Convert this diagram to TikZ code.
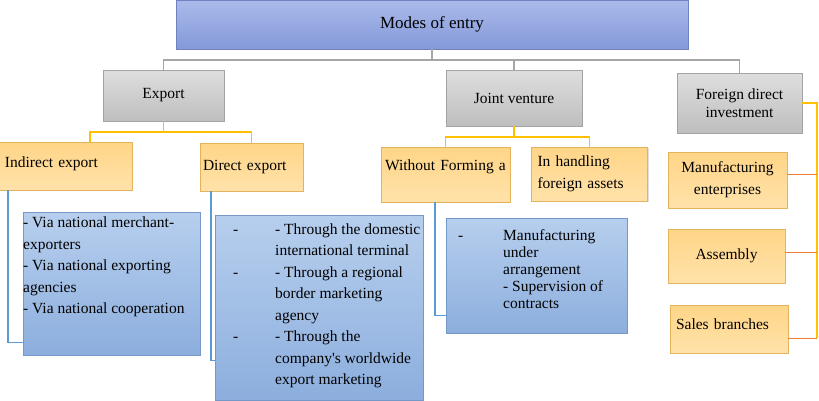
\documentclass[tikz,border=0pt]{standalone}
\usepackage{fontspec}
\setmainfont{Liberation Serif}
\usetikzlibrary{shadows}
\definecolor{titletop}{HTML}{AABAEA}
\definecolor{titlebot}{HTML}{8499D9}
\definecolor{titleedge}{HTML}{6E82BE}
\definecolor{graytop}{HTML}{DEDEDE}
\definecolor{graybot}{HTML}{BEBEBE}
\definecolor{grayedge}{HTML}{A3A3A3}
\definecolor{orangetop}{HTML}{FFD587}
\definecolor{orangebot}{HTML}{FFE2AA}
\definecolor{orangeedge}{HTML}{E3B35E}
\definecolor{listtop}{HTML}{B7CFEE}
\definecolor{listbot}{HTML}{8CAEDD}
\definecolor{listedge}{HTML}{7498C8}
\definecolor{linegray}{HTML}{A6A6A6}
\definecolor{lineyellow}{HTML}{FFC000}
\definecolor{lineorange}{HTML}{ED7D31}
\definecolor{lineblue}{HTML}{5B9BD5}
\tikzset{
  titlebox/.style={
    rectangle,
    draw=titleedge,
    top color=titletop,
    bottom color=titlebot,
    minimum width=512pt,
    minimum height=49pt,
    font=\fontsize{17}{19}\selectfont
  },
  catbox/.style={
    rectangle,
    draw=grayedge,
    top color=graytop,
    bottom color=graybot,
    align=center,
    drop shadow={shadow xshift=1pt, shadow yshift=-1pt, opacity=0.25},
    font=\fontsize{15.5}{18}\selectfont
  },
  subbox/.style={
    rectangle,
    draw=orangeedge,
    top color=orangetop,
    bottom color=orangebot,
    align=left,
    inner xsep=5pt,
    drop shadow={shadow xshift=1pt, shadow yshift=-1pt, opacity=0.25},
    font=\fontsize{15.5}{22}\selectfont
  },
  listbox/.style={
    rectangle,
    draw=listedge,
    top color=listtop,
    bottom color=listbot,
    anchor=north west,
    inner xsep=0pt,
    drop shadow={shadow xshift=1pt, shadow yshift=-1pt, opacity=0.25},
    font=\fontsize{15.5}{21.5}\selectfont
  },
  grayline/.style={draw=linegray, line width=1.5pt},
  yellowline/.style={draw=lineyellow, line width=1.8pt},
  orangeline/.style={draw=lineorange, line width=1pt},
  blueline/.style={draw=lineblue, line width=1.8pt}
}

\begin{document}
\begin{tikzpicture}[x=1pt,y=-1pt]
\useasboundingbox (0,0) rectangle (819,400);

% top and first level
\node[titlebox] (modes) at (432,24.5) {Modes of entry};
\node[catbox, minimum width=121pt, minimum height=51pt] (export) at (163.5,95.5) {Export};
\node[catbox, minimum width=136pt, minimum height=56pt] (joint) at (514,98) {Joint venture};
\node[catbox, minimum width=125pt, minimum height=60pt] (fdi) at (739.5,103) {Foreign direct\\investment};

% second level
\node[subbox, minimum width=130pt, minimum height=48pt, text width=120pt, inner xsep=7pt, text depth=7pt] (indirect) at (65,166) {Indirect export};
\node[subbox, minimum width=103pt, minimum height=48pt, text width=97pt, inner xsep=3pt] (direct) at (251.5,167) {Direct export};
\node[subbox, minimum width=129pt, minimum height=55pt, text width=121pt, inner xsep=4pt, text depth=19pt] (without) at (445.5,174.5) {Without Forming a};
\node[subbox, minimum width=115pt, minimum height=54pt, text width=104pt, inner xsep=6pt] (handling) at (589.5,174) {In handling\\foreign assets};
\node[subbox, align=center, minimum width=119pt, minimum height=56pt, text width=109pt] (manuf) at (727.5,180) {Manufacturing\\enterprises};
\node[subbox, align=center, minimum width=117pt, minimum height=54pt] (assembly) at (726.5,256) {Assembly};
\node[subbox, minimum width=118pt, minimum height=48pt, text width=106pt, inner xsep=6pt, text depth=10pt] (sales) at (729,329) {Sales branches};

% lists
\node[listbox, inner ysep=5pt] (indlist) at (23,212) {\parbox[t][133pt][t]{177pt}{%
- Via national merchant-\\exporters\\- Via national exporting\\agencies\\- Via national cooperation}};
\node[listbox, inner ysep=4pt] (dirlist) at (215,215) {\parbox[t][177pt][t]{208pt}{%
\begin{tabular}{@{\hspace{18pt}}p{42pt}@{}p{146pt}@{}}
- & - Through the domestic\newline international terminal\\
- & - Through a regional\newline border marketing\newline agency\\
- & - Through the\newline company\textquotesingle s worldwide\newline export marketing
\end{tabular}}};
\node[listbox, inner ysep=10pt, font=\fontsize{15.5}{17}\selectfont] (jvlist) at (446,218) {\parbox[t][95pt][t]{181pt}{%
\begin{tabular}{@{\hspace{12pt}}p{45pt}@{}p{122pt}@{}}
- & Manufacturing\newline under\newline arrangement\newline - Supervision of\newline contracts
\end{tabular}}};

% gray connectors
\draw[grayline] (modes.south) -- ++(0,11) coordinate (hub);
\draw[grayline] (hub) -| (export.north);
\draw[grayline] (hub) -| (joint.north);
\draw[grayline] (hub) -| (fdi.north);

% export branch
\draw[yellowline] (export.south) -- ++(0,11) coordinate (exphub);
\draw[yellowline] (exphub) -| ([xshift=25pt]indirect.north);
\draw[yellowline] (exphub) -| (direct.north);

% joint venture branch
\draw[yellowline] (joint.south) -- ++(0,11) coordinate (jvhub);
\draw[yellowline] (jvhub) -| (without.north);
\draw[yellowline] (jvhub) -| (handling.north);

% fdi branch
\path ([yshift=6pt]manuf.east) coordinate (manufin);
\path ([yshift=4pt]assembly.east) coordinate (assemblyin);
\path ([yshift=-9pt]sales.east) coordinate (salesin);
\draw[yellowline] (fdi.east) -- ++(15,0) coordinate (fdirail) -- (fdirail |- salesin);
\draw[orangeline] (manufin) -- (fdirail |- manufin);
\draw[orangeline] (assemblyin) -- (fdirail |- assemblyin);
\draw[orangeline] (salesin) -- (fdirail |- salesin);

% lists
\draw[blueline] ([xshift=10pt]indirect.south west) |- ([yshift=13pt]indlist.south west);
\draw[blueline] ([xshift=11pt]direct.south west) |- ([yshift=40pt]dirlist.south west);
\draw[blueline] ([xshift=54pt]without.south west) |- ([yshift=18pt]jvlist.south west);
\end{tikzpicture}
\end{document}
